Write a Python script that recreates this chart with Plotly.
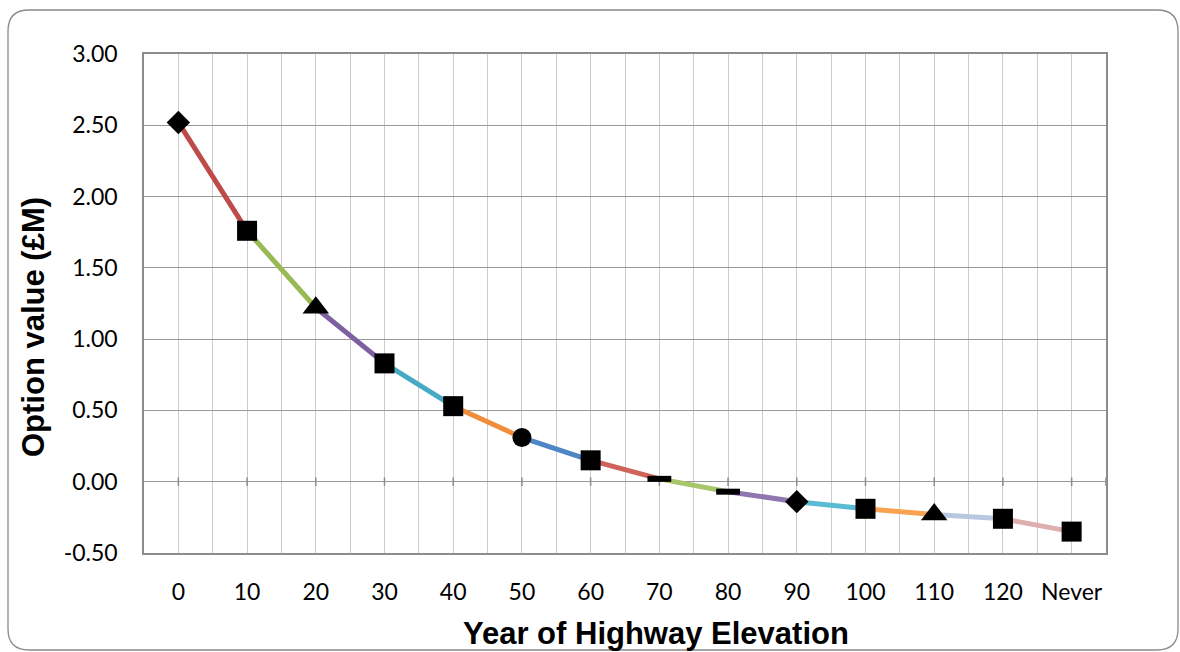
import plotly.graph_objects as go

categories = ["0", "10", "20", "30", "40", "50", "60", "70", "80", "90", "100", "110", "120", "Never"]
values = [2.52, 1.76, 1.22, 0.83, 0.53, 0.31, 0.15, 0.02, -0.07, -0.14, -0.19, -0.23, -0.26, -0.35]
segment_colors = ["#BE4B48", "#98B954", "#7D60A0", "#46AAC5", "#F08C3A", "#4F86C6",
                  "#D0625C", "#A8C66A", "#8F76B0", "#5ABBD3", "#F9A352", "#B7C8E0", "#DDAFAE"]
marker_symbols = ["diamond", "square", "triangle-up", "square", "square", "circle", "square",
                  "line-ew", "line-ew", "diamond", "square", "triangle-up", "square", "square"]
marker_sizes = [18, 20, 23, 20, 20, 19, 20, 17, 17, 18, 20, 23, 20, 20]
marker_line_widths = [0, 0, 0, 0, 0, 0, 0, 6, 6, 0, 0, 0, 0, 0]
y_ticks = [-0.5, 0.0, 0.5, 1.0, 1.5, 2.0, 2.5, 3.0]
y_ticktext = ["-0.50", "0.00", "0.50", "1.00", "1.50", "2.00", "2.50", "3.00"]

W, H = 1180, 652
L, R, T, B = 144, 74, 54, 99
PW, PH = W - L - R, H - T - B

xs = list(range(len(categories)))
fig = go.Figure()

for i in range(len(categories) - 1):
    fig.add_trace(go.Scatter(
        x=[xs[i], xs[i + 1]], y=[values[i], values[i + 1]], mode="lines",
        line=dict(color=segment_colors[i], width=5), showlegend=False, hoverinfo="skip"))

# category-axis tick marks crossing at y = 0
fig.add_trace(go.Scatter(
    x=xs + [len(categories) - 0.5], y=[0] * (len(categories) + 1), mode="markers",
    marker=dict(symbol="line-ns", size=6, opacity=1, line=dict(color="#8C8C8C", width=1.5)),
    showlegend=False, hoverinfo="skip"))

fig.add_trace(go.Scatter(
    x=xs, y=values, mode="markers",
    marker=dict(symbol=marker_symbols, size=marker_sizes, color="black", opacity=1,
                line=dict(color="black", width=marker_line_widths)),
    showlegend=False))

def px(xp):
    return (xp - L) / PW

def py(yp):
    return (H - B - yp) / PH

# rounded outer border
x0, x1, y0, y1, r = 8, 1178, 10, 650, 21
path = (f"M {px(x0 + r)},{py(y0)} L {px(x1 - r)},{py(y0)} Q {px(x1)},{py(y0)} {px(x1)},{py(y0 + r)} "
        f"L {px(x1)},{py(y1 - r)} Q {px(x1)},{py(y1)} {px(x1 - r)},{py(y1)} "
        f"L {px(x0 + r)},{py(y1)} Q {px(x0)},{py(y1)} {px(x0)},{py(y1 - r)} "
        f"L {px(x0)},{py(y0 + r)} Q {px(x0)},{py(y0)} {px(x0 + r)},{py(y0)} Z")
fig.add_shape(type="path", path=path, xref="paper", yref="paper",
              line=dict(color="#8A8A8A", width=1.3), layer="below")

fig.update_layout(
    width=W, height=H, margin=dict(l=L, r=R, t=T, b=B),
    paper_bgcolor="white", plot_bgcolor="white",
    font=dict(family="Lato", size=23, color="black"),
    xaxis=dict(range=[-0.5, len(categories) - 0.5], tickvals=xs, ticktext=categories,
               showgrid=True, gridcolor="#CCCCCC", gridwidth=1.3,
               minor=dict(dtick=1, tick0=0.5, showgrid=True, gridcolor="#CCCCCC", gridwidth=1.3),
               showline=True, linecolor="#8C8C8C", linewidth=1.5, mirror=True,
               ticks="", zeroline=False, ticklabelstandoff=18, fixedrange=True),
    yaxis=dict(range=[-0.5, 3.0], tickvals=y_ticks, ticktext=y_ticktext,
               showgrid=True, gridcolor="#989898", gridwidth=1.3,
               zeroline=True, zerolinecolor="#989898", zerolinewidth=1.3,
               showline=True, linecolor="#8C8C8C", linewidth=1.5, mirror=True,
               ticks="", ticklabelstandoff=20, fixedrange=True),
    annotations=[
        dict(text="<b>Option value (£M)</b>", xref="paper", yref="paper",
             x=px(33), y=py(327), xanchor="center", yanchor="middle",
             textangle=-90, showarrow=False,
             font=dict(family="Liberation Sans, Arial", size=31, color="black")),
        dict(text="<b>Year of Highway Elevation</b>", xref="paper", yref="paper",
             x=px(656), y=py(633), xanchor="center", yanchor="middle", showarrow=False,
             font=dict(family="Liberation Sans, Arial", size=31, color="black")),
    ],
)

fig.write_html("out.html", config={"displayModeBar": False},
               post_script="document.body.style.margin='0';document.body.style.overflow='hidden';")
